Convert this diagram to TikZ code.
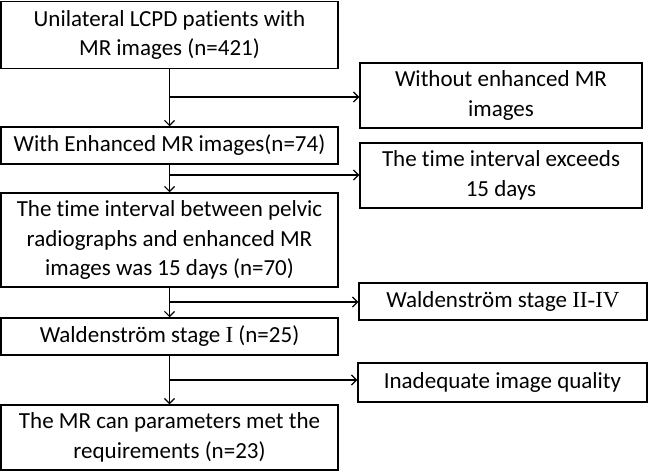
\documentclass[tikz,border=0pt]{standalone}
\usepackage{fontspec}
\setmainfont{Carlito}[Ligatures=NoCommon]
\newfontfamily\rmnum{Liberation Serif}
\usetikzlibrary{arrows.meta}
\begin{document}
\begin{tikzpicture}[x=1pt,y=1pt,
  box/.style={draw=black,line width=1.5pt,align=center,inner sep=0pt,
    font=\fontsize{23}{29.5}\selectfont},
  conn/.style={line width=1.3pt,-{Straight Barb[length=5pt,width=10pt,line width=1.2pt]}}]
\useasboundingbox (0,0) rectangle (650,-473);
\node[box,minimum width=337pt,minimum height=67pt] (b1) at (169.5,-35) {Unilateral LCPD patients with\\MR images (n=421)};
\node[box,minimum width=337pt,minimum height=37pt] (b2) at (169.5,-145.5) {With Enhanced MR images(n=74)};
\node[box,minimum width=337pt,minimum height=94pt] (b3) at (169.5,-240) {The time interval between pelvic\\radiographs and enhanced MR\\images was 15 days (n=70)};
\node[box,minimum width=337pt,minimum height=37pt] (b4) at (169.5,-336.5) {Waldenstr\"om stage {\rmnum I} (n=25)};
\node[box,minimum width=337pt,minimum height=65pt] (b5) at (169.5,-437.5) {The MR can parameters met the\\requirements (n=23)};
\node[box,minimum width=282pt,minimum height=65pt] (ra) at (501,-95.5) {Without enhanced MR\\images};
\node[box,minimum width=282pt,minimum height=65pt] (rb) at (501,-175.5) {The time interval exceeds\\15 days};
\node[box,minimum width=288pt,minimum height=37pt] (rc) at (503,-301.5) {Waldenstr\"om stage {\rmnum II-IV}};
\node[box,minimum width=289pt,minimum height=39pt] (rd) at (502.5,-382.5) {Inadequate image quality};
\coordinate (j1) at (170,-97);
\coordinate (j2) at (170,-175);
\coordinate (j3) at (170,-302);
\coordinate (j4) at (170,-380);
\draw[conn] (b1.south) -- (b2.north);
\draw[conn] (b2.south) -- (b3.north);
\draw[conn] (b3.south) -- (b4.north);
\draw[conn] (b4.south) -- (b5.north);
\draw[conn] (j1) -- (ra.west |- j1);
\draw[conn] (j2) -- (rb.west |- j2);
\draw[conn] (j3) -- (rc.west |- j3);
\draw[conn] (j4) -- (rd.west |- j4);
\end{tikzpicture}
\end{document}
